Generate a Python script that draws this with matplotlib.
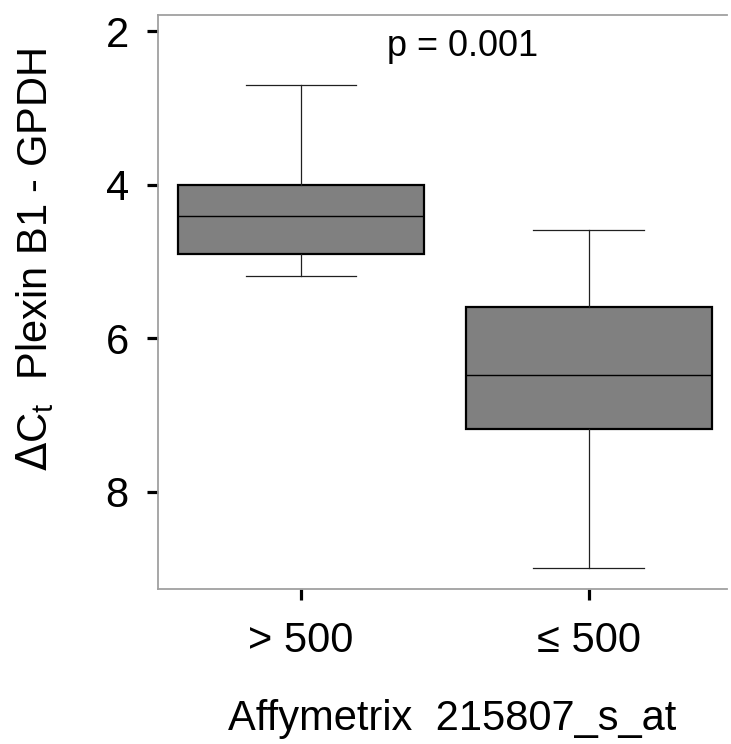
import matplotlib
matplotlib.use("Agg")
import matplotlib.pyplot as plt

plt.rcParams['font.family'] = ['Liberation Sans', 'DejaVu Sans']

# groups and box statistics (Delta Ct values)
groups = ['> 500', '≤ 500']
whisker_low = [2.70, 4.59]
q1 = [4.00, 5.60]
median = [4.41, 6.48]
q3 = [4.90, 7.19]
whisker_high = [5.19, 9.00]
p_text = 'p = 0.001'

stats = []
for i in range(len(groups)):
    stats.append(dict(label=groups[i], whislo=whisker_low[i], q1=q1[i],
                      med=median[i], q3=q3[i], whishi=whisker_high[i], fliers=[]))

fig = plt.figure(figsize=(7.31, 7.44), dpi=100)
ax = fig.add_axes([158/731, 1-589/744, (727-158)/731, (589-15)/744])

ax.bxp(stats, positions=[1, 2], widths=0.855, capwidths=0.385,
       patch_artist=True, showfliers=False,
       boxprops=dict(facecolor='#808080', edgecolor='black', linewidth=1.6),
       medianprops=dict(color='black', linewidth=1.0),
       whiskerprops=dict(color='#202020', linewidth=0.9),
       capprops=dict(color='#202020', linewidth=0.9))

ax.set_xlim(0.503, 2.48)
ax.set_ylim(9.27, 1.79)
ax.set_yticks([2, 4, 6, 8])
ax.set_xticks([1, 2])
ax.set_xticklabels(groups)

for s in ['left', 'bottom', 'top']:
    ax.spines[s].set_color('#a0a0a0')
    ax.spines[s].set_linewidth(1.3)
ax.spines['right'].set_visible(False)

ax.tick_params(axis='y', length=8, width=2.3, color='black', pad=13, labelsize=30)
ax.tick_params(axis='x', length=8, width=2.3, color='black', pad=15, labelsize=30)

ax.text(463/731, 1-47/744, p_text, transform=fig.transFigure,
        ha='center', va='center', fontsize=26)

fig.text(35/731, 1-260/744, r'$\Delta$C$_\mathregular{t}$  Plexin B1 - GPDH',
         rotation=90, ha='center', va='center', fontsize=30)
fig.text(452/731, 1-730/744, 'Affymetrix  215807_s_at',
         ha='center', va='baseline', fontsize=30)

fig.savefig('out.png', dpi=100)
